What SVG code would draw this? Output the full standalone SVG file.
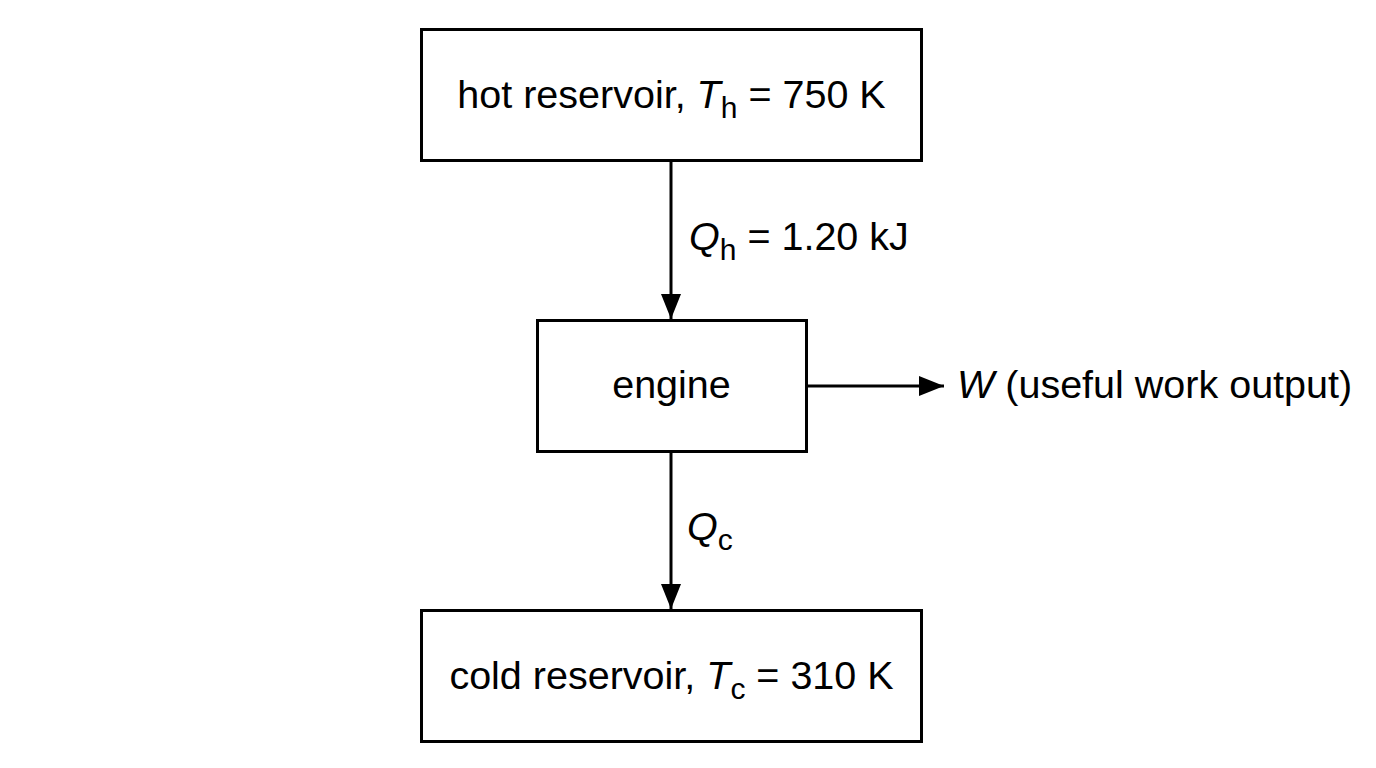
<svg xmlns="http://www.w3.org/2000/svg" width="1376" height="768" viewBox="0 0 1376 768">
<style>
.box{fill:#fff;stroke:#000;stroke-width:3}
.t{font-family:"Liberation Sans",Arial,sans-serif;font-size:39.5px;fill:#000}
.i{font-style:italic}
.sub{font-size:30px}
.edge{stroke:#000;stroke-width:3;fill:none}
</style>
<defs>
<marker id="ah" markerUnits="userSpaceOnUse" markerWidth="28" markerHeight="22" refX="25" refY="10" orient="auto">
<path d="M0,0 L25,10 L0,20 Z" fill="#000"/>
</marker>
</defs>
<rect width="1376" height="768" fill="#fff"/>
<g id="connectors">
<line class="edge" x1="671" y1="161" x2="671" y2="319" marker-end="url(#ah)"/>
<line class="edge" x1="671" y1="453" x2="671" y2="609" marker-end="url(#ah)"/>
<line class="edge" x1="808" y1="386" x2="944" y2="386" marker-end="url(#ah)"/>
<text class="t" x="689" y="250"><tspan class="i">Q</tspan><tspan class="sub" dy="10">h</tspan><tspan dy="-10"> = 1.20 kJ</tspan></text>
<text class="t" x="687" y="540"><tspan class="i">Q</tspan><tspan class="sub" dy="10">c</tspan></text>
<text class="t" x="957" y="398"><tspan class="i">W</tspan> (useful work output)</text>
</g>
<g id="hot">
<rect class="box" x="421.5" y="29.5" width="500" height="131"/>
<text class="t" x="671.5" y="108" text-anchor="middle">hot reservoir, <tspan class="i">T</tspan><tspan class="sub" dy="10">h</tspan><tspan dy="-10"> = 750 K</tspan></text>
</g>
<g id="engine">
<rect class="box" x="537.5" y="320.5" width="269" height="131"/>
<text class="t" x="671.5" y="398" text-anchor="middle">engine</text>
</g>
<g id="cold">
<rect class="box" x="421.5" y="610.5" width="500" height="131"/>
<text class="t" x="671.5" y="689" text-anchor="middle">cold reservoir, <tspan class="i">T</tspan><tspan class="sub" dy="10">c</tspan><tspan dy="-10"> = 310 K</tspan></text>
</g>
</svg>
